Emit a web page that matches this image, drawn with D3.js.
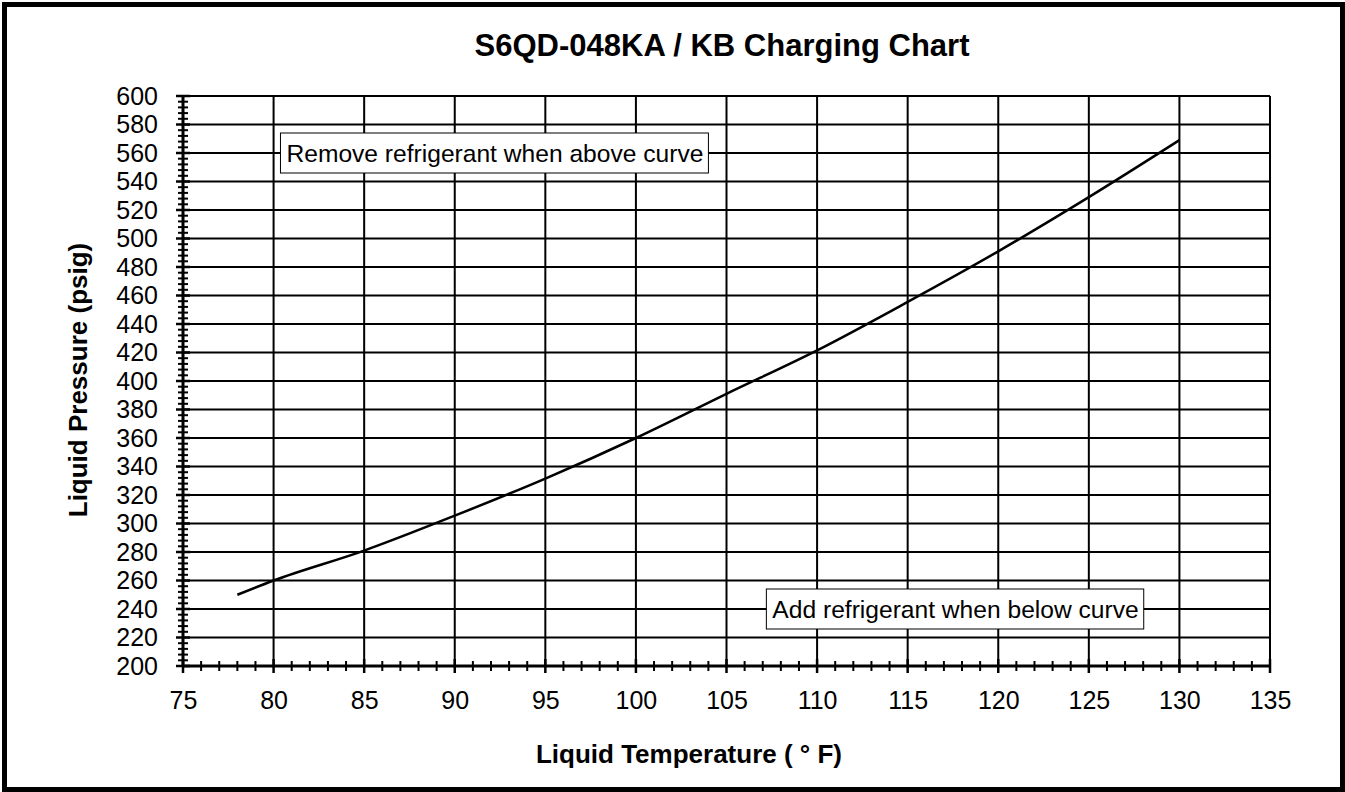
<!DOCTYPE html>
<html>
<head>
<meta charset="utf-8">
<script src="https://cdn.jsdelivr.net/npm/d3@7"></script>
<style>
  body { margin: 0; background: #fff; }
  svg { display: block; font-family: "Liberation Sans", Arial, Helvetica, sans-serif; }
</style>
</head>
<body>
<svg width="1345" height="792"></svg>
<script>
// values
var tempF    = [78, 80, 85, 90, 95, 100, 105, 110, 115, 120, 125, 130];
var pressure = [250, 260, 281, 305.5, 331.5, 360, 391, 421.5, 455.5, 491, 529, 569];

var xTicks = [75, 80, 85, 90, 95, 100, 105, 110, 115, 120, 125, 130, 135];
var yTicks = [200, 220, 240, 260, 280, 300, 320, 340, 360, 380, 400, 420, 440, 460, 480, 500, 520, 540, 560, 580, 600];

var chartTitle = "S6QD-048KA / KB Charging Chart";
var xTitle = "Liquid Temperature  ( \u00B0 F)";
var yTitle = "Liquid Pressure (psig)";
var notes = [
  {txt: "Remove refrigerant when above curve", x: 80.38, y: 560},
  {txt: "Add refrigerant when below curve", x: 107.2, y: 240}
];

var svg = d3.select("svg");
var width = 1345, height = 792;

var x = d3.scaleLinear().domain([75, 135]).range([183, 1270]);
var y = d3.scaleLinear().domain([200, 600]).range([666, 96]);

// outer frame
svg.append("rect")
  .attr("x", 4.5).attr("y", 4.5)
  .attr("width", width - 7).attr("height", height - 7)
  .attr("fill", "none").attr("stroke", "#000").attr("stroke-width", 5);

// grid
svg.append("g").selectAll("line")
  .data(yTicks.slice(1)).enter().append("line")
  .attr("x1", x(75)).attr("x2", x(135))
  .attr("y1", d => y(d)).attr("y2", d => y(d))
  .attr("stroke", "#000").attr("stroke-width", 2);

svg.append("g").selectAll("line")
  .data(xTicks.slice(1)).enter().append("line")
  .attr("x1", d => x(d)).attr("x2", d => x(d))
  .attr("y1", y(200)).attr("y2", y(600))
  .attr("stroke", "#000").attr("stroke-width", 2);

// minor ticks crossing the axes
var xMinor = d3.range(76, 135, 1).filter(d => d % 5 != 0);
var yMinor = d3.range(204, 600, 4).filter(d => d % 20 != 0);

svg.append("g").selectAll("line")
  .data(xMinor).enter().append("line")
  .attr("x1", d => x(d)).attr("x2", d => x(d))
  .attr("y1", y(200) - 5).attr("y2", y(200) + 5)
  .attr("stroke", "#000").attr("stroke-width", 2);

svg.append("g").selectAll("line")
  .data(xTicks).enter().append("line")
  .attr("x1", d => x(d)).attr("x2", d => x(d))
  .attr("y1", y(200) - 7).attr("y2", y(200) + 7)
  .attr("stroke", "#000").attr("stroke-width", 2.5);

svg.append("g").selectAll("line")
  .data(yMinor).enter().append("line")
  .attr("x1", x(75) - 5).attr("x2", x(75) + 5)
  .attr("y1", d => y(d)).attr("y2", d => y(d))
  .attr("stroke", "#000").attr("stroke-width", 2);

svg.append("g").selectAll("line")
  .data(yTicks).enter().append("line")
  .attr("x1", x(75) - 7).attr("x2", x(75) + 7)
  .attr("y1", d => y(d)).attr("y2", d => y(d))
  .attr("stroke", "#000").attr("stroke-width", 2.5);

// axis lines
svg.append("line")
  .attr("x1", x(75)).attr("x2", x(135))
  .attr("y1", y(200)).attr("y2", y(200))
  .attr("stroke", "#000").attr("stroke-width", 3);
svg.append("line")
  .attr("x1", x(75)).attr("x2", x(75))
  .attr("y1", y(200)).attr("y2", y(600))
  .attr("stroke", "#000").attr("stroke-width", 3);

// tick labels
var xAxis = svg.append("g")
  .attr("transform", "translate(0," + y(200) + ")")
  .call(d3.axisBottom(x).tickValues(xTicks).tickSize(0).tickPadding(25).tickFormat(d3.format("d")));
var yAxis = svg.append("g")
  .attr("transform", "translate(" + x(75) + ",0)")
  .call(d3.axisLeft(y).tickValues(yTicks).tickSize(0).tickPadding(25).tickFormat(d3.format("d")));

[xAxis, yAxis].forEach(function(a) {
  a.select(".domain").remove();
  a.selectAll("text")
    .attr("font-family", "Liberation Sans, Arial, sans-serif")
    .attr("font-size", 25)
    .attr("fill", "#000");
});

// curve
var pts = tempF.map((t, i) => [t, pressure[i]]);
svg.append("path")
  .datum(pts)
  .attr("fill", "none")
  .attr("stroke", "#000")
  .attr("stroke-width", 2.5)
  .attr("d", d3.line().x(d => x(d[0])).y(d => y(d[1])).curve(d3.curveMonotoneX));

// annotation boxes
notes.forEach(function(n) {
  var g = svg.append("g");
  var t = g.append("text")
    .attr("x", x(n.x) + 6)
    .attr("y", y(n.y))
    .attr("dy", ".35em")
    .attr("font-size", 24.6)
    .attr("fill", "#000")
    .text(n.txt);
  var bb = t.node().getBBox();
  g.insert("rect", "text")
    .attr("x", x(n.x)).attr("y", y(n.y) - 20)
    .attr("width", bb.width + 11).attr("height", 40)
    .attr("fill", "#fff").attr("stroke", "#000").attr("stroke-width", 1);
});

// titles
svg.append("text")
  .attr("x", 722).attr("y", 56)
  .attr("text-anchor", "middle")
  .attr("font-size", 31).attr("font-weight", "bold")
  .text(chartTitle);

svg.append("text")
  .attr("x", 689).attr("y", 763)
  .attr("text-anchor", "middle")
  .attr("font-size", 26).attr("font-weight", "bold")
  .text(xTitle);

svg.append("text")
  .attr("transform", "translate(87,380) rotate(-90)")
  .attr("text-anchor", "middle")
  .attr("font-size", 26).attr("font-weight", "bold")
  .text(yTitle);
</script>
</body>
</html>
